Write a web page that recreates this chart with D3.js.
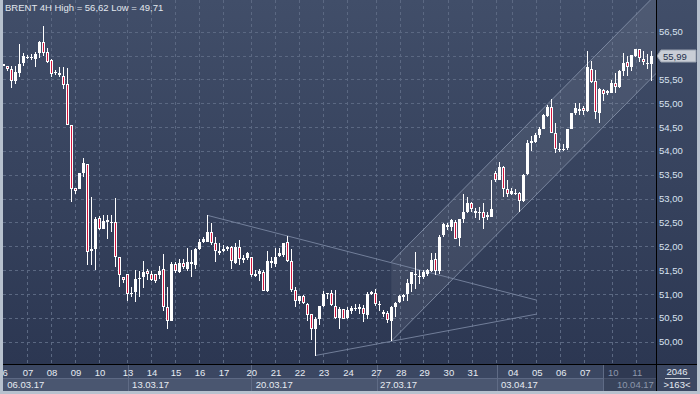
<!DOCTYPE html>
<html>
<head>
<meta charset="utf-8">
<script src="https://cdn.jsdelivr.net/npm/d3@7"></script>
<style>
html, body { margin:0; padding:0; background:#b7c1ce; }
svg { display:block; }
text { font-family: "Liberation Sans", Arial, sans-serif; }
</style>
</head>
<body>
<div id="graf"></div>
<script>
// Datos OHLC de las velas de 4 horas
const abre = [
55.82,55.79,55.71,55.47,55.63,55.84,55.98,55.96,55.93,56.05,
56.28,56.07,55.91,55.65,55.64,55.57,55.40,54.54,53.22,53.21,
53.54,53.73,51.94,51.94,52.59,52.37,52.50,52.48,52.51,51.78,
51.36,51.42,51.02,51.04,51.31,51.35,51.48,51.43,51.42,51.39,
51.53,50.72,50.44,51.63,51.46,51.64,51.53,51.63,51.61,51.94,
52.09,52.10,52.30,52.08,51.90,51.91,51.94,51.98,51.66,51.99,
51.71,51.75,51.77,51.38,51.42,51.46,51.07,51.64,51.63,51.80,
51.81,52.10,51.70,51.08,50.85,50.96,50.79,50.58,50.27,50.47,
50.75,50.99,51.02,50.75,50.50,50.68,50.50,50.65,50.68,50.69,
50.71,50.55,51.00,51.02,50.76,50.59,50.61,50.44,50.72,50.83,
50.94,50.99,51.22,51.43,51.35,51.36,51.42,51.49,51.73,51.49,
52.23,52.45,52.40,52.52,52.17,52.58,52.71,52.91,52.75,52.69,
52.72,52.61,52.62,53.54,53.39,53.66,53.20,53.10,53.11,53.11,
52.96,53.51,54.16,54.19,54.33,54.46,54.73,54.93,54.37,54.05,
54.04,54.06,54.46,54.79,54.84,54.90,54.83,55.72,55.46,54.79,
55.28,55.21,55.22,55.42,55.35,55.67,55.86,55.75,55.99,56.13,
55.92,55.82,55.82]
const alto_ = [
55.83,55.79,55.78,55.78,56.24,56.06,56.02,56.03,56.07,56.31,
56.62,56.16,55.92,55.70,55.75,55.75,55.74,54.54,53.22,53.53,
53.85,53.73,53.03,52.62,52.63,52.66,52.65,52.66,53.01,51.78,
51.36,51.43,51.14,51.50,51.49,51.69,51.53,51.49,51.42,51.59,
51.84,51.14,51.67,51.67,51.74,51.74,51.96,51.92,51.96,52.16,
52.19,52.65,52.48,52.19,52.06,52.02,52.01,52.01,52.08,52.13,
51.81,51.88,51.77,51.50,51.52,51.50,51.91,51.77,51.96,51.96,
52.08,52.21,51.95,51.14,50.96,50.97,50.82,50.59,50.51,50.75,
51.06,51.02,51.08,51.08,50.72,50.69,50.72,50.75,50.78,50.80,
50.76,51.04,51.06,51.10,50.85,50.66,50.65,50.75,50.83,50.97,
50.99,51.31,51.46,51.88,51.50,51.50,51.53,51.85,51.87,52.23,
52.49,52.48,52.57,52.55,52.57,53.10,53.04,52.93,52.80,52.82,
52.91,52.73,53.38,53.57,53.77,53.68,53.38,53.22,53.21,53.14,
53.51,54.23,54.31,54.38,54.51,54.77,54.97,55.09,54.59,54.17,
54.14,54.46,54.80,55.00,55.01,54.94,56.10,55.88,55.70,55.33,
55.29,55.28,55.49,55.63,55.70,56.05,55.99,56.02,56.14,56.13,
56.10,56.03,56.09]
const bajo = [
55.78,55.67,55.32,55.40,55.54,55.78,55.92,55.91,55.76,55.95,
55.99,55.84,55.56,55.60,55.56,55.30,54.55,52.93,53.10,53.21,
53.46,51.60,51.60,51.50,52.34,52.36,52.16,52.30,51.56,51.14,
51.24,50.85,50.93,50.83,50.93,51.13,51.29,51.28,51.24,51.31,
50.64,50.26,50.44,51.45,51.45,51.52,51.49,51.35,51.53,51.92,
52.06,52.09,52.02,51.67,51.81,51.88,51.91,51.53,51.63,51.61,
51.66,51.71,51.36,51.35,51.27,51.06,51.04,51.55,51.57,51.78,
51.78,51.67,51.04,50.72,50.80,50.78,50.44,50.04,49.71,50.36,
50.73,50.90,50.75,50.48,50.26,50.47,50.47,50.58,50.64,50.59,
50.41,50.48,50.97,50.75,50.65,50.52,50.40,50.01,50.52,50.81,
50.86,50.86,51.04,51.10,51.22,51.31,51.38,51.46,51.40,51.42,
52.20,52.34,52.33,52.15,52.01,52.49,52.70,52.72,52.59,52.55,
52.36,52.55,52.61,53.35,53.38,53.03,53.04,53.07,53.07,52.73,
52.93,53.50,54.00,54.16,54.28,54.45,54.72,54.37,53.96,53.98,
54.00,54.02,54.46,54.76,54.75,54.76,54.81,55.42,54.67,54.58,
55.04,55.18,55.21,55.21,55.33,55.58,55.57,55.67,55.97,55.86,
55.81,55.72,55.46]
const cierre = [
55.79,55.71,55.47,55.65,55.82,56.00,55.97,55.97,56.03,56.28,
56.06,55.86,55.61,55.63,55.59,55.39,54.55,53.20,53.17,53.53,
53.74,51.89,51.91,52.57,52.37,52.54,52.55,52.52,51.77,51.39,
51.29,51.00,51.01,51.32,51.33,51.46,51.42,51.29,51.28,51.49,
50.72,50.43,51.63,51.48,51.64,51.56,51.67,51.67,51.94,52.09,
52.15,52.31,52.08,51.91,51.85,51.94,51.98,51.70,51.98,51.73,
51.75,51.85,51.39,51.43,51.48,51.06,51.69,51.70,51.77,51.87,
52.08,51.70,51.08,50.85,50.96,50.82,50.55,50.26,50.48,50.75,
50.99,51.02,50.76,50.50,50.69,50.48,50.66,50.71,50.71,50.73,
50.59,51.00,51.04,50.78,50.79,50.62,50.46,50.72,50.82,50.96,
50.97,51.24,51.46,51.39,51.38,51.46,51.50,51.71,51.48,52.20,
52.47,52.40,52.55,52.15,52.57,52.73,52.91,52.78,52.69,52.72,
52.59,52.65,52.79,53.38,53.66,53.21,53.10,53.15,53.12,52.94,
53.50,54.17,54.20,54.34,54.46,54.75,54.93,54.37,54.05,54.03,
54.05,54.46,54.80,54.91,54.88,54.84,55.75,55.44,54.81,55.29,
55.19,55.25,55.42,55.35,55.68,55.84,55.75,56.02,56.13,55.95,
55.86,55.85,55.99]

// Eje de tiempo: etiquetas de dia y de semana (posicion en indice de vela)
const dias = ['06','07','08','09','10','13','14','15','16','17','20','21','22','23','24',
              '27','28','29','30','31','04','05','06','07','10','11']
const diasIdx = [-0.2,6.2,12.2,18.2,24.2,31.2,37.2,43.2,49.2,55.2,62.1,68.2,74.2,80.2,86.3,
                 93.3,99.5,105.3,111.4,117.4,127.5,133.5,139.5,145.5,152.5,158.5]
const semanas = ['06.03.17','13.03.17','20.03.17','27.03.17','03.04.17','10.04.17']
const semanasIdx = [-1, 31.2, 61.9, 93.3, 123.4, 149.9]
const semanasTxtIdx = [1, 32.2, 63.1, 94.2, 124.4, 153.4]

// Precios del eje derecho
const preciosEje = d3.range(50, 56.51, 0.5)

// Lineas dibujadas: canal alcista y triangulo
const canalIdx = [97, 163.5]
const canalBajo = [50.01, 55.65]
const canalAncho = 1.66
const triIdx1 = [51, 133.4], triP1 = [52.65, 50.87]
const triIdx2 = [78, 133.4], triP2 = [49.71, 50.58]

const totalBarras = 2046

// Espacio de visualizacion
ancho_total = 700
alto_total = 394
izq = 3, der = 656, arriba = 0, abajo = 364

svg = d3.select('#graf').append('svg')
        .attr('width', ancho_total)
        .attr('height', alto_total)

defs = svg.append('defs')
grad = defs.append('linearGradient').attr('id', 'fondo')
        .attr('x1', 0).attr('y1', 0).attr('x2', 0).attr('y2', 1)
grad.append('stop').attr('offset', '0%').attr('stop-color', '#414e69')
grad.append('stop').attr('offset', '100%').attr('stop-color', '#2c3752')

defs.append('clipPath').attr('id', 'clip')
    .append('rect')
    .attr('x', izq).attr('y', arriba)
    .attr('width', der - izq).attr('height', abajo - arriba)
defs.append('clipPath').attr('id', 'clipAbajo')
    .append('rect')
    .attr('x', izq).attr('y', abajo)
    .attr('width', der - izq).attr('height', 30)

// Fondo del panel principal y del eje derecho
svg.append('rect')
   .attr('x', izq).attr('y', 0)
   .attr('width', 697 - izq).attr('height', abajo)
   .attr('fill', 'url(#fondo)')

// Escaladores
fmt = d3.formatLocale({decimal: ',', thousands: '.', grouping: [3], currency: ['', '']}).format('.2f')
x = d3.scaleLinear().domain([0, abre.length - 1]).range([3.3, 3.3 + 4 * (abre.length - 1)])
y = d3.scaleLinear().domain([50, 56.5]).range([341.7, 31.7])

g = svg.append('g').attr('clip-path', 'url(#clip)')

// Rejilla
g.selectAll('.gy').data(preciosEje).enter().append('line')
  .attr('x1', izq).attr('x2', der)
  .attr('y1', d => Math.round(y(d)) + 0.5).attr('y2', d => Math.round(y(d)) + 0.5)
  .attr('stroke', '#5b6882').attr('stroke-dasharray', '3,3')

gridIdx = diasIdx.concat([123.4]).filter(d => x(d) > izq + 2)
g.selectAll('.gx').data(gridIdx).enter().append('line')
  .attr('y1', arriba).attr('y2', abajo)
  .attr('x1', d => Math.round(x(d)) - 0.5).attr('x2', d => Math.round(x(d)) - 0.5)
  .attr('stroke', '#5b6882').attr('stroke-dasharray', '3,3')

// Canal alcista
linea = d3.line().x(d => x(d[0])).y(d => y(d[1]))
ptsBajo = canalIdx.map((d, i) => [d, canalBajo[i]])
ptsAlto = canalIdx.map((d, i) => [d, canalBajo[i] + canalAncho])
g.append('path')
  .attr('d', linea(ptsAlto.concat(ptsBajo.slice().reverse())) + 'Z')
  .attr('fill', '#ffffff').attr('fill-opacity', 0.07)
;[ptsAlto, ptsBajo].forEach(p => {
  g.append('path').attr('d', linea(p))
   .attr('fill', 'none').attr('stroke', '#8a96ae').attr('stroke-opacity', 0.8)
})

// Triangulo
;[[triIdx1, triP1], [triIdx2, triP2]].forEach(t => {
  g.append('path').attr('d', linea(t[0].map((d, i) => [d, t[1][i]])))
   .attr('fill', 'none').attr('stroke', '#7d8aa4').attr('stroke-opacity', 0.85)
})

// Velas
velas = g.selectAll('.vela').data(d3.range(abre.length)).enter().append('g')
velas.append('rect')
  .attr('x', i => Math.floor(x(i)))
  .attr('y', i => Math.round(y(alto_[i])))
  .attr('width', 1)
  .attr('height', i => Math.max(1, Math.round(y(bajo[i])) - Math.round(y(alto_[i]))))
  .attr('fill', '#ffffff')
velas.append('rect')
  .attr('x', i => Math.floor(x(i)) - 1)
  .attr('y', i => Math.round(y(Math.max(abre[i], cierre[i]))))
  .attr('width', 3)
  .attr('height', i => Math.max(1, Math.round(y(Math.min(abre[i], cierre[i]))) - Math.round(y(Math.max(abre[i], cierre[i])))))
  .attr('fill', '#ffffff')
velas.filter(i => cierre[i] < abre[i]).append('rect')
  .attr('x', i => Math.floor(x(i)))
  .attr('y', i => Math.round(y(abre[i])) + 1)
  .attr('width', 1)
  .attr('height', i => Math.max(0, Math.round(y(cierre[i])) - Math.round(y(abre[i])) - 2))
  .attr('fill', '#d3153d')

// Titulo
svg.append('text')
   .attr('x', 5).attr('y', 11)
   .attr('font-size', '9.5px').attr('fill', '#e2e7ee')
   .text(`BRENT 4H High = ${fmt(d3.max(alto_))} Low = ${fmt(d3.min(bajo))}`)

// Eje derecho (las etiquetas tapadas por la marca del ultimo precio no se ven)
ultimo = cierre[cierre.length - 1]
yu = Math.round(y(ultimo))
svg.selectAll('.ty').data(preciosEje.filter(d => Math.abs(y(d) - yu) > 9)).enter().append('text')
   .attr('x', 659).attr('y', d => y(d) + 3.5)
   .attr('font-size', '9.5px').attr('fill', '#d8e2f0')
   .text(d => fmt(d))

// Marca del ultimo precio
svg.append('path')
   .attr('d', `M657,${yu} L661,${yu - 6} L696,${yu - 6} L696,${yu + 6} L661,${yu + 6} Z`)
   .attr('fill', '#c9ced6').attr('stroke', '#9aa3b1')
svg.append('text')
   .attr('x', 663).attr('y', yu + 3.5)
   .attr('font-size', '9.5px').attr('fill', '#24304a')
   .text(fmt(ultimo))

// Panel inferior
svg.append('rect').attr('x', izq).attr('y', abajo).attr('width', 697 - izq).attr('height', 14)
   .attr('fill', '#3b4762')
svg.append('rect').attr('x', izq).attr('y', 378).attr('width', der - izq).attr('height', 13)
   .attr('fill', '#4a5670')
svg.append('rect').attr('x', der).attr('y', 378).attr('width', 697 - der).attr('height', 13)
   .attr('fill', '#3b4762')
svg.append('line').attr('x1', izq).attr('x2', der).attr('y1', 378.5).attr('y2', 378.5)
   .attr('stroke', '#5d6984')

ga = svg.append('g').attr('clip-path', 'url(#clipAbajo)')
ga.selectAll('.sep').data(semanasIdx.slice(1)).enter().append('line')
  .attr('x1', d => Math.round(x(d)) + 0.5).attr('x2', d => Math.round(x(d)) + 0.5)
  .attr('y1', abajo).attr('y2', 391)
  .attr('stroke', '#5f6b85')
ga.append('rect')
  .attr('x', Math.round(x(semanasIdx[semanasIdx.length - 1])) + 1).attr('y', abajo)
  .attr('width', der - Math.round(x(semanasIdx[semanasIdx.length - 1])) - 1).attr('height', 27)
  .attr('fill', '#141c30').attr('fill-opacity', 0.3)

ultimaSemana = semanasIdx[semanasIdx.length - 1]
ga.selectAll('.dia').data(dias).enter().append('text')
  .attr('x', (d, i) => x(diasIdx[i]))
  .attr('y', 376)
  .attr('text-anchor', 'middle')
  .attr('font-size', '9.5px')
  .attr('fill', (d, i) => diasIdx[i] > ultimaSemana ? '#8c97ab' : '#e6ebf2')
  .text(d => d)
ga.selectAll('.sem').data(semanas).enter().append('text')
  .attr('x', (d, i) => x(semanasTxtIdx[i]))
  .attr('y', 388)
  .attr('font-size', '9.5px')
  .attr('fill', (d, i) => semanasIdx[i] >= ultimaSemana ? '#8c97ab' : '#e6ebf2')
  .text(d => d)

// Contador de barras
svg.append('text').attr('x', 677).attr('y', 375).attr('text-anchor', 'middle')
   .attr('font-size', '9.5px').attr('fill', '#e6ebf2').text(totalBarras)
svg.append('line').attr('x1', 665).attr('x2', 690).attr('y1', 378.5).attr('y2', 378.5)
   .attr('stroke', '#c6cdd8')
svg.append('text').attr('x', 677).attr('y', 388).attr('text-anchor', 'middle')
   .attr('font-size', '9.5px').attr('fill', '#e6ebf2').text(`>${abre.length}<`)

// Bordes negros
svg.append('line').attr('x1', izq).attr('x2', 697).attr('y1', abajo + 0.5).attr('y2', abajo + 0.5)
   .attr('stroke', '#000000')
svg.append('line').attr('x1', der + 0.5).attr('x2', der + 0.5).attr('y1', 0).attr('y2', 391)
   .attr('stroke', '#000000')
</script>
</body>
</html>
